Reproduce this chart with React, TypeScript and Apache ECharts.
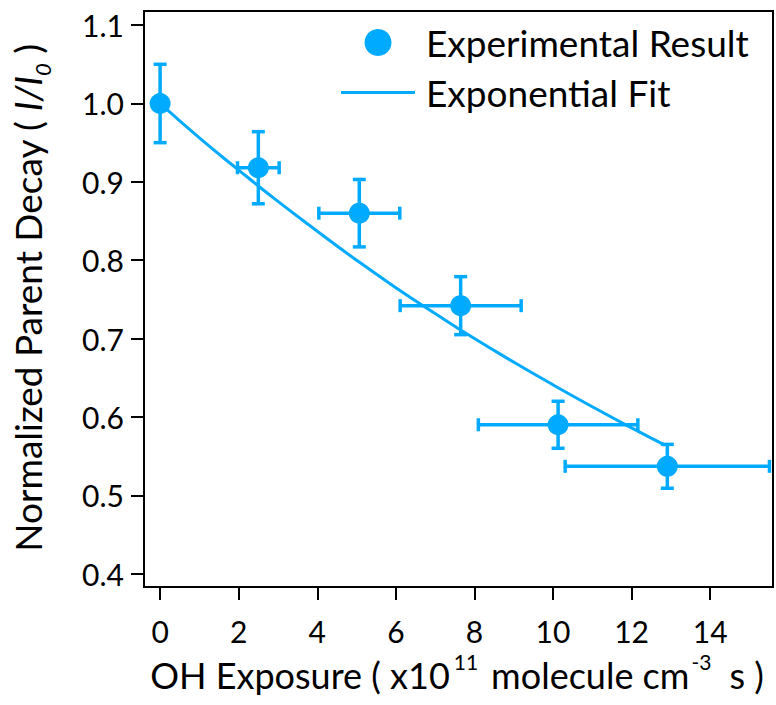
import { useEffect, useRef } from 'react';
import * as echarts from 'echarts';

// Experimental points
const expX = [0, 2.5, 5.07, 7.65, 10.13, 12.91];
const expY = [1.0, 0.918, 0.86, 0.742, 0.59, 0.537];
const expXErr = [0, 0.53, 1.03, 1.54, 2.03, 2.6];
const expYErr = [0.05, 0.046, 0.043, 0.037, 0.03, 0.028];

// Exponential fit
const fitX = [0, 1, 2, 3, 4, 5, 6, 7, 8, 9, 10, 11, 12, 12.85];
const fitY = [1.0, 0.956, 0.915, 0.875, 0.837, 0.8, 0.765, 0.732, 0.7, 0.67, 0.641, 0.613, 0.586, 0.564];

const xTicks = [0, 2, 4, 6, 8, 10, 12, 14];
const yTicks = [0.4, 0.5, 0.6, 0.7, 0.8, 0.9, 1.0, 1.1];

const COLOR = '#00aaff';
const FONT = 'Lato';

export default function App() {
  const ref = useRef<HTMLDivElement>(null);
  useEffect(() => {
    if (!ref.current) return;
    const chart = echarts.init(ref.current, null, { renderer: 'svg' });
    const errData = expX.map((x, i) => [x, expY[i], expXErr[i], expYErr[i]]);
    const option: any = {
      animation: false,
      backgroundColor: '#ffffff',
      grid: {
        left: 144,
        top: 11,
        right: 3,
        bottom: 118,
        show: true,
        borderColor: '#000',
        borderWidth: 2,
        containLabel: false,
      },
      xAxis: {
        type: 'value',
        min: -0.41,
        max: 15.6,
        axisLine: { show: true, onZero: false, lineStyle: { color: '#000', width: 2 } },
        axisTick: { show: true, inside: false, length: 13, lineStyle: { color: '#000', width: 2 }, customValues: xTicks },
        axisLabel: {
          customValues: xTicks,
          color: '#000',
          fontFamily: FONT,
          fontSize: 30,
          lineHeight: 30,
          margin: 29,
          formatter: (v: number) => String(v),
        },
        splitLine: { show: false },
      },
      yAxis: {
        type: 'value',
        min: 0.383,
        max: 1.118,
        axisLine: { show: true, onZero: false, lineStyle: { color: '#000', width: 2 } },
        axisTick: { show: true, inside: false, length: 13, lineStyle: { color: '#000', width: 2 }, customValues: yTicks },
        axisLabel: {
          customValues: yTicks,
          color: '#000',
          fontFamily: FONT,
          fontSize: 30,
          margin: 20,
          formatter: (v: number) => v.toFixed(1),
        },
        splitLine: { show: false },
      },
      legend: {
        orient: 'vertical',
        left: 336,
        top: 19,
        itemWidth: 74,
        itemHeight: 27,
        itemGap: 13,
        data: [
          { name: 'Experimental Result', icon: 'circle' },
          { name: 'Exponential Fit', icon: 'path://M0,0 H74 V3 H0 Z' },
        ],
        textStyle: { fontFamily: FONT, fontSize: 37, color: '#000', padding: [0, 0, 0, 6] },
      },
      graphic: [
        {
          type: 'text',
          x: 31,
          y: 298,
          rotation: Math.PI / 2,
          style: {
            text: '{a|Normalized Parent Decay ( }{i|I/I}{s|0}{a| )}',
            align: 'center',
            verticalAlign: 'middle',
            textAlign: 'center',
            textVerticalAlign: 'middle',
            fill: '#000',
            fontFamily: FONT,
            fontSize: 37,
            rich: {
              a: { fontFamily: FONT, fontSize: 37, lineHeight: 34, verticalAlign: 'top', fill: '#000' },
              i: { fontFamily: FONT, fontSize: 37, fontStyle: 'italic', lineHeight: 34, verticalAlign: 'top', fill: '#000' },
              s: { fontFamily: FONT, fontSize: 22, fontStyle: 'italic', lineHeight: 44, verticalAlign: 'bottom', fill: '#000' },
            },
          },
        },
        {
          type: 'text',
          x: 457,
          y: 672,
          style: {
            text: '{a|OH Exposure ( x10}{u|11}{a|molecule cm}{v|-3}{a|s )}',
            align: 'center',
            verticalAlign: 'middle',
            textAlign: 'center',
            textVerticalAlign: 'middle',
            fill: '#000',
            fontFamily: FONT,
            fontSize: 36,
            rich: {
              a: { fontFamily: FONT, fontSize: 36, lineHeight: 30, verticalAlign: 'bottom', fill: '#000' },
              u: { fontFamily: FONT, fontSize: 21, lineHeight: 42, verticalAlign: 'top', fill: '#000', padding: [0, 13, 0, 4] },
              v: { fontFamily: FONT, fontSize: 21, lineHeight: 42, verticalAlign: 'top', fill: '#000', padding: [0, 18, 0, 2] },
            },
          },
        },
      ],
      series: [
        {
          name: 'Exponential Fit',
          type: 'line',
          data: fitX.map((x, i) => [x, fitY[i]]),
          smooth: true,
          symbol: 'none',
          showSymbol: false,
          lineStyle: { color: COLOR, width: 3 },
          itemStyle: { color: COLOR },
          z: 2,
        },
        {
          name: 'errors',
          type: 'custom',
          data: errData,
          encode: { x: 0, y: 1 },
          clip: false,
          z: 3,
          renderItem: (params: any, api: any) => {
            const x = api.value(0);
            const y = api.value(1);
            const ex = api.value(2);
            const ey = api.value(3);
            const cap = 6.5;
            const style = { stroke: COLOR, lineWidth: 3.5, fill: 'none' };
            const children: any[] = [];
            if (ey > 0) {
              const t = api.coord([x, y + ey]);
              const b = api.coord([x, y - ey]);
              children.push({ type: 'line', shape: { x1: t[0], y1: t[1], x2: b[0], y2: b[1] }, style });
              children.push({ type: 'line', shape: { x1: t[0] - cap, y1: t[1], x2: t[0] + cap, y2: t[1] }, style });
              children.push({ type: 'line', shape: { x1: b[0] - cap, y1: b[1], x2: b[0] + cap, y2: b[1] }, style });
            }
            if (ex > 0) {
              const l = api.coord([x - ex, y]);
              const r = api.coord([x + ex, y]);
              children.push({ type: 'line', shape: { x1: l[0], y1: l[1], x2: r[0], y2: r[1] }, style });
              children.push({ type: 'line', shape: { x1: l[0], y1: l[1] - cap, x2: l[0], y2: l[1] + cap }, style });
              children.push({ type: 'line', shape: { x1: r[0], y1: r[1] - cap, x2: r[0], y2: r[1] + cap }, style });
            }
            return { type: 'group', children };
          },
        },
        {
          name: 'Experimental Result',
          type: 'scatter',
          data: expX.map((x, i) => [x, expY[i]]),
          symbol: 'circle',
          symbolSize: 21,
          itemStyle: { color: COLOR, opacity: 1 },
          z: 4,
        },
      ],
    };
    chart.setOption(option);
    return () => chart.dispose();
  }, []);
  return (
    <div
      ref={ref}
      style={{ position: 'fixed', left: 0, top: 0, width: 776, height: 705, background: '#fff' }}
    />
  );
}
